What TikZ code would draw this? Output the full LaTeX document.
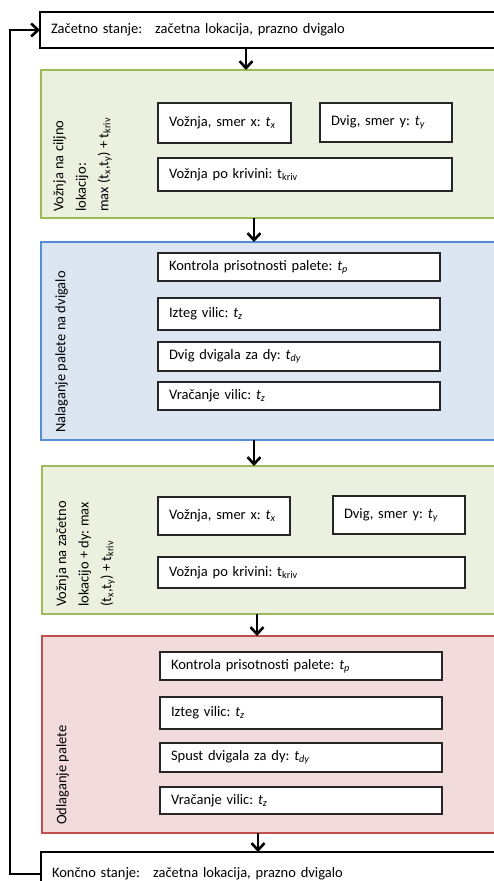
\documentclass[tikz,border=0pt]{standalone}
\usepackage{fontspec}
\setmainfont{Carlito}
\usetikzlibrary{arrows.meta}
\frenchspacing

\definecolor{grfill}{HTML}{EBF1DE}
\definecolor{grline}{HTML}{9BBB59}
\definecolor{blfill}{HTML}{DCE6F2}
\definecolor{blline}{HTML}{558ED5}
\definecolor{rdfill}{HTML}{F2DCDB}
\definecolor{rdline}{HTML}{C0504D}

\newcommand{\ti}[1]{\textit{t}\textsubscript{\textit{#1}}}
\newcommand{\tu}[1]{t\textsubscript{#1}}

\begin{document}
\begin{tikzpicture}[x=1pt,y=-1pt,
  txt/.style={font=\fontsize{14.5}{17}\selectfont},
  phase/.style={draw, rectangle, anchor=north west, outer sep=0pt, inner sep=0pt, line width=2.6pt},
  statebox/.style={draw=black, fill=white, rectangle, anchor=north west, outer sep=0pt,
    line width=2pt, inner xsep=11pt, align=left, txt},
  stepbox/.style={draw=black!85, fill=white, rectangle, anchor=north west, outer sep=0pt,
    line width=1.5pt, inner xsep=11pt, inner ysep=0pt, align=left, txt},
  sidelabel/.style={rotate=90, anchor=north west, inner sep=0pt, align=left,
    font=\fontsize{14.5}{22.5}\selectfont},
  flow/.style={line width=2.6pt, -{Straight Barb[length=7pt,width=13pt,line width=2.6pt]}},
  loop/.style={line width=2.8pt, -{Straight Barb[length=7pt,width=13pt,line width=2.6pt]}}
]
\useasboundingbox (0,0) rectangle (493,881);

% start and end states
\node[statebox, minimum width=460pt, minimum height=36pt, text width=438pt] (start) at (40,12)
  {Začetno stanje:\hspace{0.9em}začetna lokacija, prazno dvigalo};
\node[statebox, minimum width=460pt, minimum height=44pt, text width=438pt] (end) at (41,852)
  {Končno stanje:\hspace{0.9em}začetna lokacija, prazno dvigalo};

% phase frames
\node[phase, draw=grline, fill=grfill, minimum width=460pt, minimum height=148pt] (g1) at (41,70) {};
\node[phase, draw=blline, fill=blfill, minimum width=460pt, minimum height=198pt] (b1) at (41,242) {};
\node[phase, draw=grline, fill=grfill, minimum width=460pt, minimum height=148pt] (g2) at (42,466) {};
\node[phase, draw=rdline, fill=rdfill, minimum width=460pt, minimum height=197pt] (r1) at (42,636) {};

% phase titles
\node[sidelabel] (g1t) at (53,212) {Vožnja na ciljno\\lokacijo:\\max (\tu{x},\tu{y}) + \tu{kriv}};
\node[sidelabel] (b1t) at (55,433) {Nalaganje palete na dvigalo};
\node[sidelabel] (g2t) at (56,607) {Vožnja na začetno\\lokacijo + dy: max\\(\tu{x},\tu{y}) + \tu{kriv}};
\node[sidelabel] (r1t) at (56,825) {Odlaganje palete};

% travel to target location
\node[stepbox, minimum width=133pt, minimum height=40pt, text width=111pt] (g1x) at (158,103) {Vožnja, smer x: \ti{x}};
\node[stepbox, minimum width=132pt, minimum height=39pt, text width=110pt] (g1y) at (320,103) {Dvig, smer y: \ti{y}};
\node[stepbox, minimum width=294pt, minimum height=33pt, text width=272pt] (g1k) at (158,158) {Vožnja po krivini: \tu{kriv}};

% loading the pallet
\node[stepbox, minimum width=282pt, minimum height=28pt, text width=260pt] (b1a) at (158,253) {Kontrola prisotnosti palete: \ti{p}};
\node[stepbox, minimum width=282pt, minimum height=32pt, text width=260pt] (b1b) at (158,298) {Izteg vilic: \ti{z}};
\node[stepbox, minimum width=282pt, minimum height=29pt, text width=260pt] (b1c) at (158,342) {Dvig dvigala za dy: \ti{dy}};
\node[stepbox, minimum width=282pt, minimum height=28pt, text width=260pt] (b1d) at (158,382) {Vračanje vilic: \ti{z}};

% travel back to start location
\node[stepbox, minimum width=132pt, minimum height=38pt, text width=110pt] (g2x) at (158,497) {Vožnja, smer x: \ti{x}};
\node[stepbox, minimum width=132pt, minimum height=38pt, text width=110pt] (g2y) at (333,496) {Dvig, smer y: \ti{y}};
\node[stepbox, minimum width=307pt, minimum height=31pt, text width=285pt] (g2k) at (158,557) {Vožnja po krivini: \tu{kriv}};

% unloading the pallet
\node[stepbox, minimum width=282pt, minimum height=28pt, text width=260pt] (r1a) at (160,652) {Kontrola prisotnosti palete: \ti{p}};
\node[stepbox, minimum width=282pt, minimum height=32pt, text width=260pt] (r1b) at (160,697) {Izteg vilic: \ti{z}};
\node[stepbox, minimum width=282pt, minimum height=29pt, text width=260pt] (r1c) at (160,743) {Spust dvigala za dy: \ti{dy}};
\node[stepbox, minimum width=282pt, minimum height=27pt, text width=260pt] (r1d) at (160,787) {Vračanje vilic: \ti{z}};

% connector columns
\coordinate (c1) at (246,0);
\coordinate (c2) at (254,0);
\coordinate (c3) at (254,0);
\coordinate (c4) at (257,0);
\coordinate (c5) at (258,0);
\coordinate (back) at (10,0);

\draw[flow] (start.south -| c1) -- (g1.north -| c1);
\draw[flow] (g1.south -| c2) -- (b1.north -| c2);
\draw[flow] (b1.south -| c3) -- (g2.north -| c3);
\draw[flow] (g2.south -| c4) -- (r1.north -| c4);
\draw[flow] (r1.south -| c5) -- (end.north -| c5);

% return loop
\draw[loop] (end.west) -- (end.west -| back) -- (start.west -| back) -- (start.west);
\end{tikzpicture}
\end{document}
